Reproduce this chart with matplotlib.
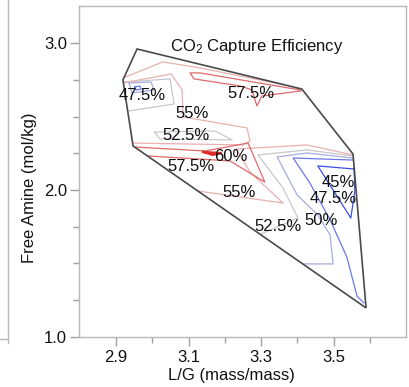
import numpy as np
import matplotlib
matplotlib.use("Agg")
import matplotlib.pyplot as plt
from matplotlib.patches import Polygon
from matplotlib.lines import Line2D
from matplotlib.ticker import FixedLocator

plt.rcParams['font.family'] = ['Liberation Sans', 'DejaVu Sans']
plt.rcParams['mathtext.fontset'] = 'custom'
plt.rcParams['mathtext.rm'] = 'Liberation Sans'
plt.rcParams['mathtext.it'] = 'Liberation Sans:italic'

nan = np.nan

# Convex hull of the experimental runs (L/G, free amine)
hull_lg = [2.958, 3.412, 3.553, 3.589, 2.947, 2.919]
hull_amine = [2.961, 2.688, 2.245, 1.196, 2.300, 2.750]

# Capture-efficiency contour levels (%) and their colours
levels = [45, 47.5, 50, 52.5, 55, 57.5, 60]
level_colors = ['#3a4fe0', '#6a78e6', '#a6acdf', '#c8c8cc',
                '#e8b0b0', '#e06a6a', '#e02a2a']

# Contour traces per level; NaN separates the pieces of one level
c450_lg = [3.556, 3.456, 3.547, 3.558, 3.556]
c450_am = [2.143, 2.164, 1.809, 1.993, 2.143]

c475_lg = [3.553, 3.388, 3.434, 3.490, 3.536, 3.564, 3.583, nan,
           2.952, 2.966, 2.969, 2.955, 2.952]
c475_am = [2.204, 2.218, 2.048, 1.796, 1.543, 1.277, 1.230, nan,
           2.702, 2.709, 2.688, 2.682, 2.702]

c500_lg = [3.553, 3.426, 3.344, 3.399, 3.456, 3.490, 3.498, 3.413, nan,
           2.936, 2.996, 3.005, 2.944, 2.936]
c500_am = [2.218, 2.252, 2.225, 1.966, 1.830, 1.693, 1.496, 1.496, nan,
           2.729, 2.736, 2.682, 2.661, 2.729]

c525_lg = [2.922, 3.049, 3.060, 2.933, nan,
           3.007, 3.173, 3.220, 3.021, 3.007, nan,
           3.553, 3.426, 3.291, 3.360, 3.401, 3.299]
c525_am = [2.736, 2.757, 2.586, 2.538, nan,
           2.395, 2.402, 2.341, 2.348, 2.395, nan,
           2.232, 2.273, 2.239, 2.014, 1.809, 1.700]

c550_lg = [2.919, 3.029, 3.131, 3.407, nan,
           2.919, 3.052, 3.082, 3.085, 3.261, 3.269, 3.250, 2.947, nan,
           3.553, 3.426, 3.231, 3.269, 3.360, 3.126]
c550_am = [2.763, 2.873, 2.832, 2.695, nan,
           2.729, 2.791, 2.682, 2.498, 2.423, 2.334, 2.307, 2.320, nan,
           2.239, 2.307, 2.279, 2.123, 1.911, 1.993]

c575_lg = [3.407, 3.131, 3.104, 3.115, 3.242, 3.275, 3.288, 3.302, 3.410, nan,
           2.950, 3.145, 3.264, 3.310, 3.214, 2.988]
c575_am = [2.682, 2.798, 2.798, 2.757, 2.709, 2.682, 2.573, 2.641, 2.675, nan,
           2.293, 2.266, 2.320, 2.054, 2.198, 2.232]

c600_lg = [3.140, 3.189, 3.167, 3.140]
c600_am = [2.259, 2.252, 2.239, 2.259]

contours = [(c450_lg, c450_am), (c475_lg, c475_am), (c500_lg, c500_am),
            (c525_lg, c525_am), (c550_lg, c550_am), (c575_lg, c575_am),
            (c600_lg, c600_am)]

# Contour labels
label_lg = [3.512, 3.498, 3.465, 3.346, 3.239, 3.107, 3.217, 3.093, 3.109, 2.972, 3.272]
label_amine = [2.054, 1.945, 1.795, 1.748, 1.986, 2.157, 2.225, 2.368, 2.524, 2.647, 2.660]
label_level = [45, 47.5, 50, 52.5, 55, 57.5, 60, 52.5, 55, 47.5, 57.5]

x_major = [2.9, 3.1, 3.3, 3.5]
x_minor = [3.0, 3.2, 3.4, 3.6]
y_major = [1.0, 2.0, 3.0]
y_minor = [1.25, 1.5, 1.75, 2.25, 2.5, 2.75]

fig = plt.figure(figsize=(4.09, 3.87), dpi=100)
ax = fig.add_axes([79 / 409, 1 - 336.7 / 387, 327 / 409, 330.7 / 387])

hull = Polygon(np.column_stack([hull_lg, hull_amine]), closed=True,
               fill=False, edgecolor='#4a4a4a', linewidth=1.2, zorder=4)
ax.add_patch(hull)

for (xs, ys), lev, col in zip(contours, levels, level_colors):
    lw = 1.6 if lev == 60 else 0.9
    ln, = ax.plot(xs, ys, color=col, linewidth=lw, zorder=3)
    ln.set_clip_path(hull)

for lx, ly, lv in zip(label_lg, label_amine, label_level):
    ax.text(lx, ly, f"{lv:g}%", ha='center', va='center', fontsize=12,
            color='#111111', zorder=5)

ax.text(0.544, 0.879, r"CO$_2$ Capture Efficiency", transform=ax.transAxes,
        ha='center', va='center', fontsize=12, color='#111111')

ax.set_xlim(2.798, 3.699)
ax.set_ylim(1.0, 3.254)
ax.xaxis.set_major_locator(FixedLocator(x_major))
ax.xaxis.set_minor_locator(FixedLocator(x_minor))
ax.yaxis.set_major_locator(FixedLocator(y_major))
ax.yaxis.set_minor_locator(FixedLocator(y_minor))
ax.set_xticklabels([f"{v:.1f}" for v in x_major])
ax.set_yticklabels([f"{v:.1f}" for v in y_major])

for s in ax.spines.values():
    s.set_color('#b8b8b8')
    s.set_linewidth(1.0)
ax.tick_params(which='major', length=6.5, width=1.0, color='#a0a0a0',
               labelsize=12, labelcolor='#111111')
ax.tick_params(which='minor', length=4.5, width=1.0, color='#a0a0a0')
ax.tick_params(axis='x', which='both', pad=3)
ax.tick_params(axis='y', which='both', pad=2)

ax.set_xlabel("L/G (mass/mass)", fontsize=12, color='#111111')
ax.xaxis.set_label_coords(0.465, -0.116)
ax.xaxis.label.set_verticalalignment('center')
ax.set_ylabel("Free Amine (mol/kg)", fontsize=12, color='#111111')
ax.yaxis.set_label_coords(-0.15, 0.45)
ax.yaxis.label.set_verticalalignment('center')

# edge of the neighbouring panel on the left
fig.add_artist(Line2D([8 / 409, 8 / 409], [1.0, 1 - 343 / 387],
                      transform=fig.transFigure, color='#b8b8b8', linewidth=1.0))
fig.add_artist(Line2D([0, 8 / 409], [1 - 339 / 387, 1 - 339 / 387],
                      transform=fig.transFigure, color='#b8b8b8', linewidth=1.0))

fig.savefig("out.png", dpi=100)
